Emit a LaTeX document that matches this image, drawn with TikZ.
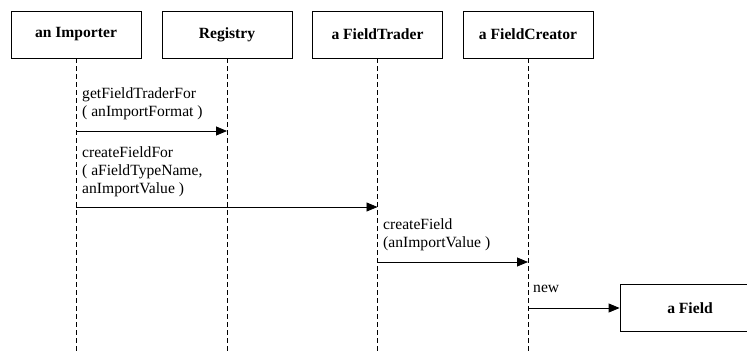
\documentclass[tikz,border=0pt]{standalone}
\usepackage{fontspec}
\setmainfont{Liberation Serif}
\usetikzlibrary{arrows.meta}
\begin{document}
\begin{tikzpicture}[x=1pt,y=-1pt,
  obj/.style={draw,line width=0.8pt,minimum width=130pt,minimum height=47pt,font=\fontsize{15.6}{18}\selectfont\bfseries,inner sep=0pt},
  life/.style={line width=0.7pt,dash pattern=on 5pt off 3pt},
  msg/.style={line width=0.8pt,-{Triangle[length=11pt,width=9pt]}},
  lbl/.style={font=\fontsize{15.6}{18}\selectfont,align=left,anchor=south west,inner sep=0pt}]
\useasboundingbox (0,0) rectangle (747,351);
\node[obj] (imp) at (76,34.5) {an Importer};
\node[obj] (reg) at (227,34.5) {Registry};
\node[obj] (tra) at (377.5,34.5) {a FieldTrader};
\node[obj] (cre) at (528,34.5) {a FieldCreator};
\coordinate (impE) at (76,351);
\coordinate (regE) at (227,351);
\coordinate (traE) at (377.5,351);
\coordinate (creE) at (528,351);
\draw[life] (imp.south) -- (impE);
\draw[life] (reg.south) -- (regE);
\draw[life] (tra.south) -- (traE);
\draw[life] (cre.south) -- (creE);
\node[obj,minimum width=140pt] (fld) at (690,308) {a Field};
\coordinate (m1a) at (76,131);
\coordinate (m1b) at (227,131);
\coordinate (m2a) at (76,207);
\coordinate (m2b) at (377.5,207);
\coordinate (m3a) at (377.5,262);
\coordinate (m3b) at (528,262);
\coordinate (m4a) at (528,308);
\draw[msg] (m1a) -- (m1b);
\draw[msg] (m2a) -- (m2b);
\draw[msg] (m3a) -- (m3b);
\draw[msg] (m4a) -- (fld.west);
\node[lbl] (l1) at (82,120) {getFieldTraderFor\\( anImportFormat )};
\node[lbl] (l2) at (82,197) {createFieldFor\\( aFieldTypeName,\\anImportValue )};
\node[lbl] (l3) at (383,251) {createField\\(anImportValue )};
\node[lbl] (l4) at (533,293) {new};
\end{tikzpicture}
\end{document}
